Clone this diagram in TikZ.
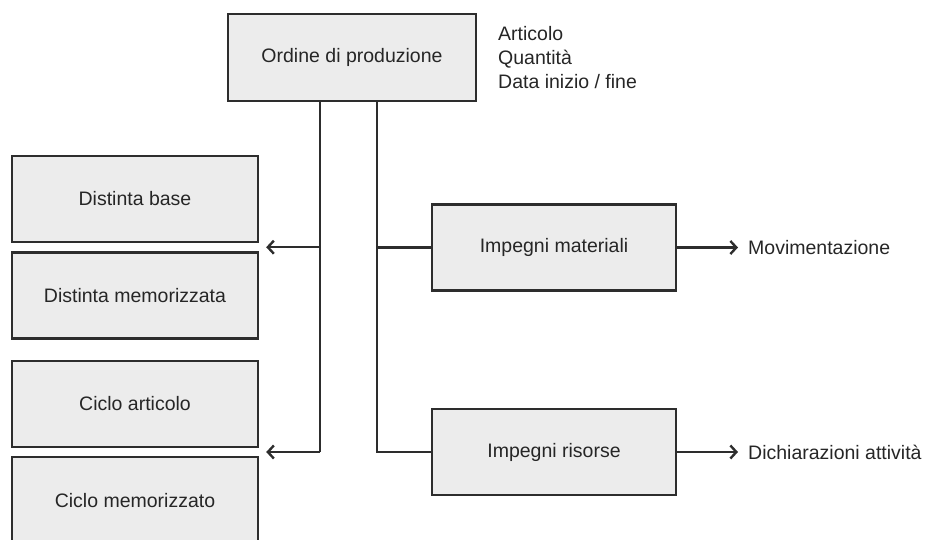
\documentclass[tikz,border=0pt]{standalone}
\usepackage{fontspec}
\setmainfont{Liberation Sans}
\usepackage{xcolor}
\usepackage{tikz}
\usetikzlibrary{positioning, arrows.meta, calc}
\definecolor{boxFill}{RGB}{236,236,236}
\definecolor{lineColor}{RGB}{45,45,45}
\tikzset{
    block/.style={
        draw=lineColor,
        line width=2.4pt,
        fill=boxFill,
        minimum width=246pt,
        minimum height=86pt,
        inner sep=0pt,
        text=black!85,
        font=\fontsize{19.5}{23}\selectfont
    },
    link/.style={
        draw=lineColor,
        line width=2.4pt
    },
    ptr/.style={
        link,
        -{Straight Barb[length=6pt, width=13pt, line width=2.4pt]}
    },
    label/.style={
        inner sep=0pt,
        text=black!85,
        font=\fontsize{19.5}{24}\selectfont
    }
}

\begin{document}
\begin{tikzpicture}[x=1pt, y=-1pt]
    \clip (0,0) rectangle (931,539);

    \node[block, minimum width=248pt, minimum height=87pt] (Ordine) at (352,57.5) {Ordine di produzione};
    \node[label, anchor=north west, align=left] (Attr) at (498,26) {Articolo\\Quantità\\Data inizio / fine};

    \node[block] (DistBase) at (135,199) {Distinta base};
    \node[block, below=8pt of DistBase] (DistMem) {Distinta memorizzata};
    \node[block, below=20pt of DistMem] (CicloArt) {Ciclo articolo};
    \node[block, below=8pt of CicloArt] (CicloMem) {Ciclo memorizzato};

    \node[block, minimum width=244pt] (ImpMat) at (554,247.5) {Impegni materiali};
    \node[block, minimum width=244pt] (ImpRis) at (554,452) {Impegni risorse};

    \node[label, anchor=west] (Mov) at (748,247.5) {Movimentazione};
    \node[label, anchor=west] (Dich) at (748,452) {Dichiarazioni attività};

    \coordinate (TrunkL) at (320,452);
    \coordinate (TrunkR) at (377,452);
    \coordinate (GapA) at ($(DistBase.south east)!0.5!(DistMem.north east)+(7,0)$);
    \coordinate (GapB) at ($(CicloArt.south east)!0.5!(CicloMem.north east)+(7,0)$);

    % verso sinistra
    \draw[link] (Ordine.south -| TrunkL) -- (TrunkL |- GapB);
    \draw[ptr] (TrunkL |- GapA) -- (GapA);
    \draw[ptr] (TrunkL |- GapB) -- (GapB);

    % verso destra
    \draw[link] (Ordine.south -| TrunkR) |- (ImpRis.west);
    \draw[link] (TrunkR |- ImpMat.west) -- (ImpMat.west);
    \draw[ptr, shorten >=10pt] (ImpMat.east) -- (Mov.west);
    \draw[ptr, shorten >=10pt] (ImpRis.east) -- (Dich.west);
\end{tikzpicture}
\end{document}
